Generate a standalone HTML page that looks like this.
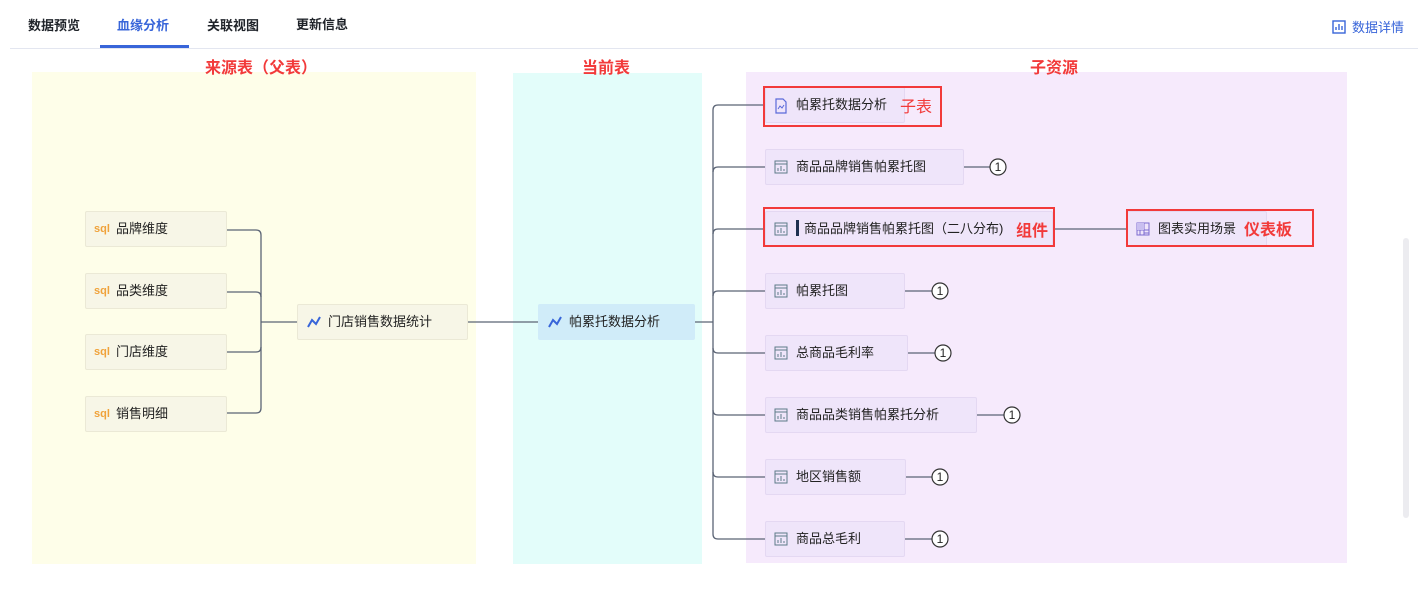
<!DOCTYPE html>
<html><head><meta charset="utf-8"><style>
body{margin:0;width:1418px;height:593px;background:#fff;position:relative;overflow:hidden;font-family:"Liberation Sans","Noto Sans CJK SC",sans-serif;}
.a{position:absolute}
.tab{position:absolute;top:15px;font-size:13px;font-weight:bold;color:#1f2329}
.node{position:absolute;height:36px;box-sizing:border-box;border:1px solid;border-radius:2px;font-size:13px;color:#222;line-height:34px;padding-left:30px;white-space:nowrap}
.y{background:#f7f6e7;border-color:#ebe9d6}
.p{background:#efe5fa;border-color:#e4d8f2}
.red{position:absolute;border:2px solid #f23a3a;box-sizing:border-box}
.rl{position:absolute;color:#f23a3a;font-size:16px;font-weight:bold}
.sec{position:absolute;color:#f23a3a;font-size:16px;top:54px;font-weight:bold}
.ic{position:absolute;left:8px;top:10px}
</style></head><body>
<div class="tab" style="left:28px">数据预览</div>
<div class="tab" style="left:117px;color:#3865d9">血缘分析</div>
<div class="tab" style="left:207px">关联视图</div>
<div class="tab" style="left:296px;top:14px">更新信息</div>
<div class="a" style="left:10px;top:48px;width:1408px;height:1px;background:#e3e6f0"></div>
<div class="a" style="left:100px;top:45px;width:89px;height:3px;background:#3865d9"></div>
<div class="a" style="left:1332px;top:17px;font-size:13px;color:#3865d9">
<svg width="14" height="14" style="vertical-align:-2px;margin-right:6px"><rect x="1" y="1" width="12" height="12" fill="none" stroke="#3865d9" stroke-width="1.4"/><path d="M4 10V7M7 10V4M10 10V6" stroke="#3865d9" stroke-width="1.4"/></svg>数据详情</div>

<div class="a" style="left:32px;top:72px;width:444px;height:492px;background:#fefee9"></div>
<div class="a" style="left:513px;top:73px;width:189px;height:491px;background:#e3fdfa"></div>
<div class="a" style="left:746px;top:72px;width:601px;height:491px;background:#f6eafc"></div>
<div class="a" style="left:1403px;top:238px;width:6px;height:280px;background:#ececf0;border-radius:3px"></div>
<div class="sec" style="left:205px">来源表（父表）</div>
<div class="sec" style="left:582px">当前表</div>
<div class="sec" style="left:1030px">子资源</div>

<svg class="a" style="left:0;top:0" width="1418" height="593">
<g fill="none" stroke="#5b6475" stroke-width="1.3">
<path d="M227 230H256Q261 230 261 235V408Q261 413 256 413H227"/>
<path d="M227 292H256Q261 292 261 297M227 352H256Q261 352 261 347"/>
<path d="M261 322H297M468 322H538M695 322H713"/>
<path d="M765 105H718Q713 105 713 110V534Q713 539 718 539H765"/>
<path d="M713 172Q713 167 718 167H765M713 234Q713 229 718 229H765M713 296Q713 291 718 291H765M713 348Q713 353 718 353H765M713 410Q713 415 718 415H765M713 472Q713 477 718 477H765"/>
<path d="M964 167H990M1053 229H1127M905 291H932M908 353H935M977 415H1004M906 477H932M905 539H932"/>
</g>
<g fill="#fff" stroke="#333" stroke-width="1.2">
<circle cx="998" cy="167" r="8"/><circle cx="940" cy="291" r="8"/><circle cx="943" cy="353" r="8"/><circle cx="1012" cy="415" r="8"/><circle cx="940" cy="477" r="8"/><circle cx="940" cy="539" r="8"/>
</g>
<g font-size="12" text-anchor="middle" fill="#222" font-family="Liberation Sans">
<text x="998" y="171">1</text><text x="940" y="295">1</text><text x="943" y="357">1</text><text x="1012" y="419">1</text><text x="940" y="481">1</text><text x="940" y="543">1</text>
</g>
</svg>

<div class="node y" style="left:85px;top:211px;width:142px"><span class="ic" style="color:#f0a23a;font-size:11px;top:0;font-weight:bold">sql</span>品牌维度</div>
<div class="node y" style="left:85px;top:273px;width:142px"><span class="ic" style="color:#f0a23a;font-size:11px;top:0;font-weight:bold">sql</span>品类维度</div>
<div class="node y" style="left:85px;top:334px;width:142px"><span class="ic" style="color:#f0a23a;font-size:11px;top:0;font-weight:bold">sql</span>门店维度</div>
<div class="node y" style="left:85px;top:396px;width:142px"><span class="ic" style="color:#f0a23a;font-size:11px;top:0;font-weight:bold">sql</span>销售明细</div>
<div class="node y" style="left:297px;top:304px;width:171px"><svg class="ic" width="16" height="14"><path d="M2 12L6 5L10 9L14 2" fill="none" stroke="#3865d9" stroke-width="2"/></svg>门店销售数据统计</div>
<div class="node" style="left:538px;top:304px;width:157px;background:#d0ecf9;border-color:#d0ecf9"><svg class="ic" width="16" height="14"><path d="M2 12L6 5L10 9L14 2" fill="none" stroke="#3865d9" stroke-width="2"/></svg>帕累托数据分析</div>

<div class="node p" style="left:765px;top:87px;width:140px"><svg class="ic" width="14" height="16"><path d="M2 1H9L12 4V15H2Z" fill="none" stroke="#5a6ad9" stroke-width="1.2"/><path d="M4 11L6 8L8 10L10 7" fill="none" stroke="#5a6ad9"/></svg>帕累托数据分析</div>
<div class="node p" style="left:765px;top:149px;width:199px"><svg class="ic" width="14" height="14"><rect x="1" y="1" width="12" height="12" fill="none" stroke="#5d7a88"/><path d="M1 4H13M4 11V8M7 11V6M10 11V9" stroke="#5d7a88"/></svg>商品品牌销售帕累托图</div>
<div class="node p" style="left:765px;top:211px;width:288px"><svg class="ic" width="14" height="14"><rect x="1" y="1" width="12" height="12" fill="none" stroke="#5d7a88"/><path d="M1 4H13M4 11V8M7 11V6M10 11V9" stroke="#5d7a88"/></svg><span style="display:inline-block;width:3px;height:16px;background:#1e3050;vertical-align:-3px;margin-right:5px"></span>商品品牌销售帕累托图（二八分布)</div>
<div class="node p" style="left:1127px;top:211px;width:140px"><svg class="ic" width="14" height="14"><rect x="1" y="1" width="12" height="12" fill="none" stroke="#7b6ad0"/><path d="M1 8H13M8 1V13M4 8V13M8 11H13" stroke="#7b6ad0"/><rect x="1" y="1" width="7" height="7" fill="#c9bff0"/></svg>图表实用场景</div>
<div class="node p" style="left:765px;top:273px;width:140px"><svg class="ic" width="14" height="14"><rect x="1" y="1" width="12" height="12" fill="none" stroke="#5d7a88"/><path d="M1 4H13M4 11V8M7 11V6M10 11V9" stroke="#5d7a88"/></svg>帕累托图</div>
<div class="node p" style="left:765px;top:335px;width:143px"><svg class="ic" width="14" height="14"><rect x="1" y="1" width="12" height="12" fill="none" stroke="#5d7a88"/><path d="M1 4H13M4 11V8M7 11V6M10 11V9" stroke="#5d7a88"/></svg>总商品毛利率</div>
<div class="node p" style="left:765px;top:397px;width:212px"><svg class="ic" width="14" height="14"><rect x="1" y="1" width="12" height="12" fill="none" stroke="#5d7a88"/><path d="M1 4H13M4 11V8M7 11V6M10 11V9" stroke="#5d7a88"/></svg>商品品类销售帕累托分析</div>
<div class="node p" style="left:765px;top:459px;width:141px"><svg class="ic" width="14" height="14"><rect x="1" y="1" width="12" height="12" fill="none" stroke="#5d7a88"/><path d="M1 4H13M4 11V8M7 11V6M10 11V9" stroke="#5d7a88"/></svg>地区销售额</div>
<div class="node p" style="left:765px;top:521px;width:140px"><svg class="ic" width="14" height="14"><rect x="1" y="1" width="12" height="12" fill="none" stroke="#5d7a88"/><path d="M1 4H13M4 11V8M7 11V6M10 11V9" stroke="#5d7a88"/></svg>商品总毛利</div>

<div class="red" style="left:763px;top:86px;width:179px;height:41px"></div>
<div class="rl" style="left:900px;top:93px;font-weight:normal">子表</div>
<div class="red" style="left:763px;top:207px;width:292px;height:40px"></div>
<div class="rl" style="left:1016px;top:217px">组件</div>
<div class="red" style="left:1126px;top:209px;width:188px;height:38px"></div>
<div class="rl" style="left:1244px;top:216px">仪表板</div>
</body></html>
